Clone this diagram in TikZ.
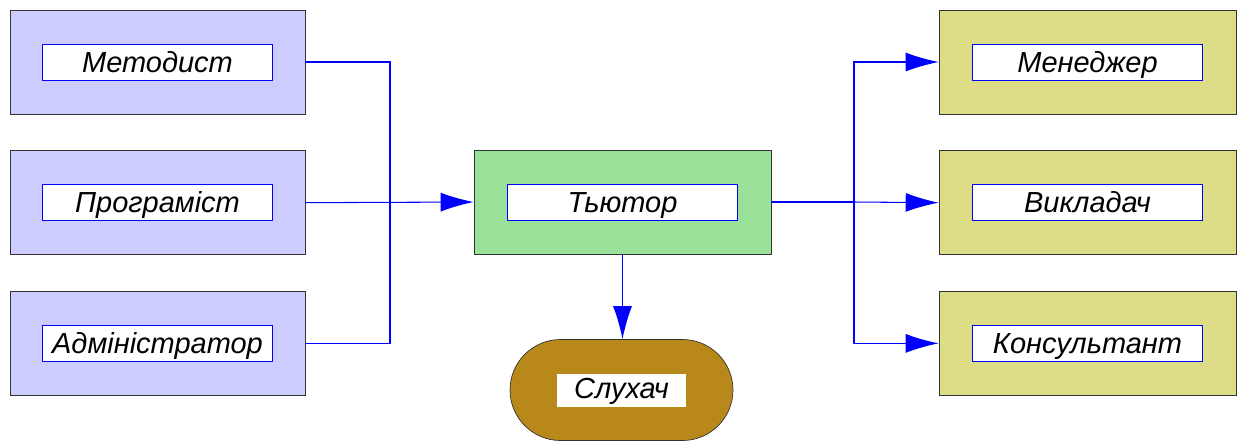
\documentclass[tikz,border=0pt]{standalone}
\usepackage{fontspec}
\setmainfont{Liberation Sans}
\usetikzlibrary{positioning,arrows.meta,shapes.misc}

\definecolor{lilac}{RGB}{204,204,255}
\definecolor{mintgreen}{RGB}{153,224,153}
\definecolor{khaki}{RGB}{221,221,136}
\definecolor{ochre}{RGB}{185,136,26}

\begin{document}
\begin{tikzpicture}[x=0.02cm,y=-0.02cm,
		lilacbox/.style={draw=black!80,fill=lilac,minimum width=5.9cm,minimum height=2.08cm,inner sep=0pt},
		greenbox/.style={draw=black!80,fill=mintgreen,minimum width=5.94cm,minimum height=2.08cm,inner sep=0pt},
		khakibox/.style={draw=black!80,fill=khaki,minimum width=5.94cm,minimum height=2.08cm,inner sep=0pt},
		capsule/.style={draw=black!80,fill=ochre,rounded rectangle,minimum width=4.46cm,minimum height=2.02cm,inner sep=0pt},
		tag/.style={draw=blue,fill=white,minimum width=4.6cm,inner sep=0pt,text height=0.56cm,text depth=0.16cm,font=\fontsize{16.5}{18}\selectfont\itshape},
		plain/.style={fill=white,minimum width=2.58cm,inner sep=0pt,text height=0.5cm,text depth=0.16cm,font=\fontsize{16.5}{18}\selectfont\itshape},
		link/.style={draw=blue,line width=0.6pt},
		arrow/.style={link,-{Latex[length=0.66cm,width=0.38cm]}}]
		\useasboundingbox (0,0) rectangle (1239,444);

		% left column
		\node[lilacbox]								(metod)		at (157.5,62)	{};
		\node[lilacbox,node distance=0.72cm,below=of metod]	(prog)		{};
		\node[lilacbox,node distance=0.72cm,below=of prog]	(admin)		{};
		\node[tag]	(tmetod)	at (metod)	{Методист};
		\node[tag]	(tprog)		at (prog)	{Програміст};
		\node[tag]	(tadmin)	at (admin)	{Адміністратор};

		% centre
		\node[greenbox]								(tutor)		at (622.5,202)	{};
		\node[tag]	(ttutor)	at (tutor)	{Тьютор};
		\node[capsule]								(listener)	at (621.5,390)	{};
		\node[plain]	(tlistener)	at (listener)	{Слухач};

		% right column
		\node[khakibox]								(manager)	at (1087.5,62)	{};
		\node[khakibox,node distance=0.72cm,below=of manager]	(teacher)	{};
		\node[khakibox,node distance=0.72cm,below=of teacher]	(consult)	{};
		\node[tag]	(tmanager)	at (manager)	{Менеджер};
		\node[tag]	(tteacher)	at (teacher)	{Викладач};
		\node[tag]	(tconsult)	at (consult)	{Консультант};

		\coordinate (injoin)  at (390,202);
		\coordinate (outjoin) at (854,202);

		\draw[link] (metod.east) -| (injoin);
		\draw[link] (admin.east) -| (injoin);
		\draw[arrow] (prog.east) -- (tutor.west);
		\draw[link] (tutor.east) -- (outjoin);
		\draw[arrow] (outjoin) |- (manager.west);
		\draw[arrow] (outjoin) -- (teacher.west);
		\draw[arrow] (outjoin) |- (consult.west);
		\draw[arrow] (tutor.south) -- (tutor.south |- listener.north);
	\end{tikzpicture}
\end{document}
